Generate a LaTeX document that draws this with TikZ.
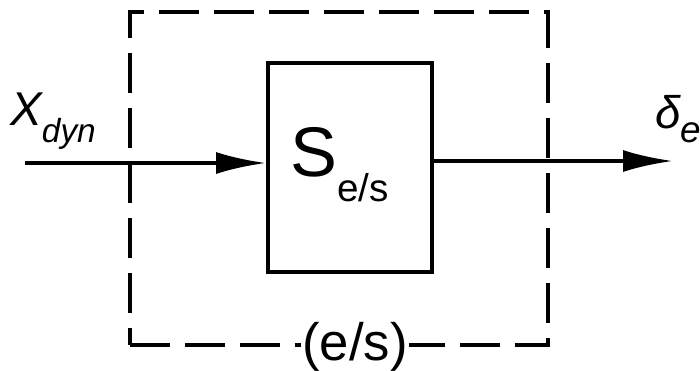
\documentclass[tikz,border=0pt]{standalone}
\usepackage{fontspec}
\setmainfont{Liberation Sans}
\usetikzlibrary{arrows.meta}

\tikzset{
  sigline/.style={line width=2.2pt, -{Latex[length=10mm, width=4.4mm]}},
  blockbox/.style={draw, line width=2.2pt, minimum width=3.28cm, minimum height=4.18cm, inner sep=0pt},
  groupbox/.style={draw, line width=2.2pt, dash pattern=on 8mm off 3mm, minimum width=8.36cm, minimum height=6.66cm, inner sep=0pt},
}

\begin{document}
\begin{tikzpicture}[x=0.02cm, y=-0.02cm]
  \useasboundingbox (0,0) rectangle (700,370);
  % dashed enclosure and the block inside it
  \node[groupbox] (grp) at (339,178.5) {};
  \node[blockbox] (sys) at (350,167.5) {};
  \node[font=\fontsize{40}{40}\selectfont, inner sep=0pt, anchor=base west] (sname) at (290,176)
    {S\raisebox{-14.5pt}{\fontsize{22}{22}\selectfont e/s}};
  \node[fill=white, font=\fontsize{30}{30}\selectfont, inner sep=1pt] (glabel) at ([xshift=0.32cm]grp.south) {(e/s)};
  % input and output signals
  \coordinate (in) at (25,163);
  \coordinate (out) at (673,161);
  \draw[sigline] (in) -- (in -| sys.west);
  \draw[sigline] (sys.east |- out) -- (out);
  \node[font=\fontsize{27}{27}\selectfont\itshape, inner sep=0pt, anchor=base west] (xin) at (10,125)
    {X\raisebox{-10pt}{\fontsize{19}{19}\selectfont dyn}};
  \node[font=\fontsize{26}{26}\selectfont\itshape, inner sep=0pt, anchor=base west] (dout) at (655,128)
    {δ\raisebox{-8pt}{\fontsize{21}{21}\selectfont e}};
\end{tikzpicture}
\end{document}
